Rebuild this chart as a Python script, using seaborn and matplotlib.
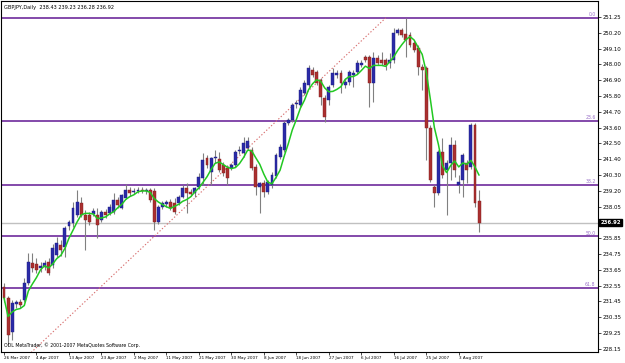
import numpy as np
import pandas as pd
import matplotlib
matplotlib.use("Agg")
import matplotlib.pyplot as plt
import seaborn as sns

# ---------------- data ----------------
open_ = [232.46, 231.69, 229.33, 231.28, 231.41, 231.55, 232.74, 234.13, 234.06, 233.78,
         233.85, 234.20, 233.99, 234.68, 235.38, 235.24, 236.70, 236.91, 237.47, 238.30,
         237.47, 237.47, 237.54, 237.47, 237.12, 237.68, 237.61, 237.68, 238.51, 237.96,
         238.65, 239.21, 239.07, 239.14, 239.21, 239.14, 239.21, 239.14, 236.98, 238.02,
         238.23, 238.37, 238.30, 238.30, 238.72, 239.35, 239.07, 239.00, 239.42, 240.04,
         241.44, 240.46, 241.44, 241.37, 240.95, 240.74, 240.74, 240.95, 241.92, 241.78,
         242.13, 241.99, 240.81, 239.42, 239.70, 239.07, 239.56, 240.18, 241.50, 241.99,
         243.87, 244.08, 245.19, 245.12, 245.96, 246.52, 247.56, 247.42, 246.86, 245.61,
         245.47, 246.52, 247.21, 247.35, 246.52, 246.72, 247.21, 247.42, 247.91, 248.46,
         248.46, 246.65, 248.39, 248.25, 248.25, 248.05, 248.25, 250.13, 250.34, 250.06,
         249.99, 249.44, 249.09, 247.77, 247.70, 243.52, 239.42, 239.00, 241.85, 240.60,
         241.09, 242.34, 239.56, 239.90, 241.09, 240.81, 243.73, 238.43]
high = [232.74, 231.83, 231.55, 231.55, 231.62, 233.08, 234.82, 234.82, 234.48, 234.20,
        234.34, 234.48, 235.45, 235.94, 235.73, 236.70, 237.12, 238.37, 239.21, 238.72,
        237.82, 237.68, 237.96, 237.96, 237.82, 237.89, 238.23, 239.00, 238.72, 238.93,
        239.63, 239.42, 239.35, 239.42, 239.42, 239.35, 239.35, 239.35, 238.16, 238.44,
        238.51, 238.58, 238.65, 238.86, 239.56, 239.70, 239.28, 239.42, 240.39, 241.78,
        241.64, 241.50, 241.99, 241.85, 241.16, 240.95, 241.09, 241.99, 242.27, 242.90,
        242.90, 242.20, 241.02, 239.77, 239.90, 239.90, 240.46, 241.78, 242.41, 244.01,
        244.22, 245.26, 245.47, 246.38, 246.86, 247.91, 247.77, 247.56, 247.00, 245.82,
        246.52, 247.70, 247.56, 247.56, 247.00, 247.56, 247.56, 248.25, 248.25, 248.60,
        248.60, 248.81, 248.60, 248.81, 248.39, 248.74, 250.48, 250.48, 250.48, 251.18,
        250.20, 249.65, 249.30, 247.98, 247.84, 243.73, 239.56, 241.99, 242.83, 241.30,
        242.90, 242.69, 240.25, 241.78, 241.30, 243.87, 243.87, 239.23]
low = [231.41, 228.42, 228.77, 231.00, 231.00, 231.41, 232.60, 233.50, 233.43, 233.50,
       233.64, 233.29, 233.78, 234.54, 234.61, 234.54, 236.42, 236.63, 237.33, 237.33,
       235.03, 236.77, 237.40, 235.87, 236.98, 237.26, 237.47, 237.54, 237.96, 237.89,
       238.58, 238.79, 238.93, 239.00, 239.00, 238.93, 238.37, 236.42, 236.84, 237.89,
       238.02, 237.82, 237.54, 238.16, 238.65, 237.61, 238.79, 238.72, 239.28, 239.56,
       240.74, 239.56, 241.09, 240.46, 240.18, 239.56, 240.60, 240.81, 241.71, 241.50,
       241.99, 240.60, 238.86, 237.61, 238.72, 238.93, 239.35, 240.04, 241.37, 241.85,
       243.73, 243.94, 244.91, 244.98, 245.82, 246.38, 247.07, 246.52, 245.12, 243.94,
       245.12, 246.38, 247.00, 245.96, 246.31, 246.52, 246.38, 247.28, 247.77, 248.12,
       244.98, 245.33, 247.91, 247.91, 247.56, 247.70, 248.05, 249.99, 249.86, 248.46,
       249.16, 248.81, 247.21, 246.17, 241.30, 239.77, 238.02, 238.86, 240.04, 237.47,
       239.90, 240.11, 239.00, 238.72, 239.70, 240.67, 238.02, 236.28]
close = [231.69, 229.12, 231.34, 231.41, 231.21, 232.74, 234.20, 233.78, 233.64, 233.92,
         234.13, 233.43, 235.17, 235.52, 235.03, 236.56, 236.98, 237.96, 238.37, 237.47,
         237.12, 236.98, 237.75, 236.77, 237.68, 237.47, 238.02, 238.51, 238.16, 238.86,
         239.21, 239.00, 239.14, 239.21, 239.14, 239.21, 238.51, 236.98, 238.02, 238.30,
         238.37, 237.96, 237.68, 238.72, 239.35, 239.00, 238.93, 239.35, 240.11, 241.30,
         240.95, 241.44, 241.50, 240.60, 240.39, 240.04, 240.95, 241.85, 241.99, 242.48,
         242.62, 240.74, 239.42, 239.70, 239.07, 239.77, 240.25, 241.64, 242.20, 243.87,
         244.08, 245.12, 245.26, 246.17, 246.65, 247.70, 247.21, 246.65, 245.68, 244.29,
         246.38, 247.35, 247.35, 246.65, 246.72, 247.42, 247.35, 248.05, 248.05, 248.25,
         246.65, 248.39, 248.05, 248.05, 247.91, 248.25, 250.13, 250.34, 249.99, 249.65,
         249.30, 248.95, 247.77, 247.56, 243.52, 239.90, 239.00, 241.85, 240.25, 241.09,
         242.34, 240.60, 239.77, 241.64, 240.60, 243.73, 238.30, 236.92]

date_labels = ["26 Mar 2007", "4 Apr 2007", "13 Apr 2007", "23 Apr 2007", "2 May 2007",
               "11 May 2007", "21 May 2007", "30 May 2007", "8 Jun 2007", "18 Jun 2007",
               "27 Jun 2007", "6 Jul 2007", "16 Jul 2007", "25 Jul 2007", "3 Aug 2007"]
date_label_bars = [0, 8, 16, 24, 32, 40, 48, 56, 64, 72, 80, 88, 96, 104, 112]

price_ticks = [228.15, 229.25, 230.35, 231.45, 232.55, 233.65, 234.75, 235.85, 236.95,
               238.05, 239.15, 240.25, 241.35, 242.45, 243.55, 244.65, 245.75, 246.85,
               247.95, 249.05, 250.15, 251.25]
price_tick_labels = ["228.15", "229.25", "230.35", "231.45", "232.55", "233.65", "234.75",
                     "235.85", "236.95", "238.05", "239.20", "240.30", "241.40", "242.50",
                     "243.60", "244.70", "245.80", "246.90", "248.00", "249.10", "250.20",
                     "251.25"]

fib_levels = [0.0, 23.6, 38.2, 50.0, 61.8]
fib_labels = ["0.0", "23.6", "38.2", "50.0", "61.8"]
fib_high = 251.18
fib_low = 220.78
fib_anchor_bars = [-20, 94]

symbol_title = "GBPJPY,Daily"
copyright_text = "ODL MetaTrader, \u00a9 2001-2007 MetaQuotes Software Corp."
ma_period = 5

# ---------------- figure ----------------
sns.set_style("white")
plt.rcParams["font.family"] = ["DejaVu Sans"]

W, H = 625, 363
fig = plt.figure(figsize=(W / 100, H / 100), dpi=100)
fig.patch.set_facecolor("white")
ax = fig.add_axes([1 / W, 11 / H, 597 / W, 351 / H])
ax.set_facecolor("white")

df = pd.DataFrame({"bar": np.arange(len(close)), "open": open_, "high": high,
                   "low": low, "close": close})
df["ma"] = df["close"].rolling(ma_period, min_periods=1).mean()

# fibonacci levels
fib_prices = [fib_high - (fib_high - fib_low) * lv / 100.0 for lv in fib_levels]
for p, lab in zip(fib_prices, fib_labels):
    ax.axhline(p, color="#6e2a9c", lw=1.2, zorder=1)
    ax.text(0.996, p + 0.05, lab, transform=ax.get_yaxis_transform(), ha="right",
            va="bottom", fontsize=3.3, color="#9a70c8", zorder=5)

# last price line
last_price = close[-1]
ax.axhline(last_price, color="#c0c0c0", lw=1.0, zorder=1)

# fibo trend line
ax.plot(fib_anchor_bars, [fib_low, fib_high], color="#d87070", lw=0.8,
        ls=(0, (1.2, 1.8)), zorder=1)

# candles
ax.vlines(df["bar"], df["low"], df["high"], color="#808080", lw=0.8, zorder=2)
up = df["close"] >= df["open"]
body_bottom = np.minimum(df["open"], df["close"])
body_height = np.maximum(np.abs(df["close"] - df["open"]), 0.04)
ax.bar(df["bar"][up], body_height[up], bottom=body_bottom[up], width=0.72,
       color="#2a2aa8", edgecolor="#1c1c80", linewidth=0.3, zorder=3)
ax.bar(df["bar"][~up], body_height[~up], bottom=body_bottom[~up], width=0.72,
       color="#aa3030", edgecolor="#801c1c", linewidth=0.3, zorder=3)

# moving average
sns.lineplot(data=df, x="bar", y="ma", color="#22c822", lw=1.1, ax=ax,
             legend=False, zorder=4)

ax.set_xlim(-0.74, 146.3)
ax.set_ylim(227.93, 252.36)

# axes styling
for s in ax.spines.values():
    s.set_visible(True)
    s.set_color("black")
    s.set_linewidth(0.8)

# the tick label under the last-price box is hidden, as in the terminal
shown_labels = [("" if abs(v - last_price) < 0.5 else lab)
                for v, lab in zip(price_ticks, price_tick_labels)]
ax.yaxis.tick_right()
ax.set_yticks(price_ticks)
ax.set_yticklabels(shown_labels)
ax.tick_params(axis="y", direction="out", length=2, width=0.5, pad=1.5,
               labelsize=3.9, colors="black", right=True, left=False)

ax.set_xticks(date_label_bars)
ax.set_xticklabels(date_labels, ha="left")
ax.tick_params(axis="x", direction="out", length=2, width=0.5, pad=1.0,
               labelsize=3.0, colors="black", bottom=True)
ax.set_xlabel("")
ax.set_ylabel("")

# last price box
ax.text(1.004, last_price, f"{last_price:.2f}", transform=ax.get_yaxis_transform(),
        ha="left", va="center", fontsize=3.9, color="white", fontweight="bold",
        bbox=dict(facecolor="black", edgecolor="black", pad=0.8), clip_on=False,
        zorder=10)

# header / footer text
ax.text(0.005, 0.988,
        f"{symbol_title}  {open_[-1]:.2f} {high[-1]:.2f} {low[-1]:.2f} {close[-1]:.2f}",
        transform=ax.transAxes, ha="left", va="top", fontsize=3.6, color="black")
ax.text(0.005, 0.012, copyright_text, transform=ax.transAxes, ha="left",
        va="bottom", fontsize=3.3, color="black")

fig.savefig("out.png", dpi=100, facecolor="white")
